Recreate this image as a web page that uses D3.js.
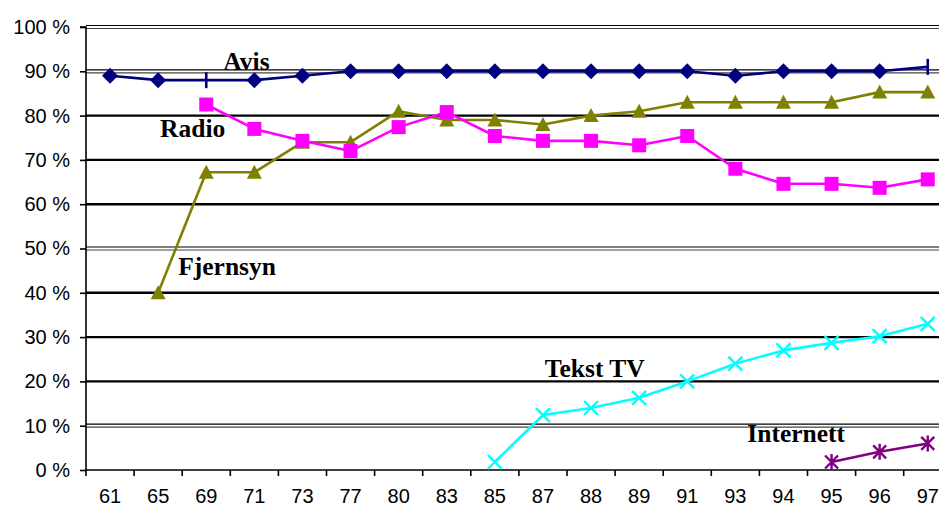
<!DOCTYPE html>
<html>
<head>
<meta charset="utf-8">
<script src="https://cdn.jsdelivr.net/npm/d3@7"></script>
<style>
  html, body { margin: 0; padding: 0; background: #fff; overflow: hidden; }
  svg { display: block; }
</style>
</head>
<body>
<svg id="chart" width="939" height="508"></svg>
<script>
const categories = ["61","65","69","71","73","77","80","83","85","87","88","89","91","93","94","95","96","97"];
const yTicks = [0,10,20,30,40,50,60,70,80,90,100];

const avis      = [89, 88, 88, 88, 89, 90, 90, 90, 90, 90, 90, 90, 90, 89, 90, 90, 90, 91];
const radio     = [null, null, 82.5, 77, 74.3, 72, 77.4, 80.8, 75.4, 74.3, 74.3, 73.3, 75.4, 68, 64.6, 64.6, 63.7, 65.6];
const fjernsyn  = [null, 40, 67.2, 67.2, 74, 74, 81, 79, 79, 78, 80, 81, 83, 83, 83, 83, 85.3, 85.3];
const tekstTV   = [null, null, null, null, null, null, null, null, 1.8, 12.4, 14, 16.3, 20, 24, 27, 28.7, 30.2, 33];
const internett = [null, null, null, null, null, null, null, null, null, null, null, null, null, null, null, 1.8, 4.1, 6];

const seriesNames = ["Avis", "Radio", "Fjernsyn", "Tekst TV", "Internett"];

(function () {
const svg = d3.select("#chart");
const mLeft = 86, mTop = 27, mBottom = 470, step = 48.1;
const x = d3.scaleBand().domain(categories).range([mLeft, mLeft + step * categories.length]).padding(0);
const y = d3.scaleLinear().domain([0, 100]).range([mBottom, mTop]);

// gridlines
const doubleLines = new Set([100, 90, 50, 10]);
const grid = svg.append("g");
yTicks.filter(v => v > 0).forEach(v => {
  const yy = y(v);
  if (doubleLines.has(v)) {
    grid.append("line").attr("x1", mLeft).attr("x2", 939).attr("y1", yy - 1.5).attr("y2", yy - 1.5)
      .attr("stroke", "#000").attr("stroke-width", 1.2);
    grid.append("line").attr("x1", mLeft).attr("x2", 939).attr("y1", yy + 1.5).attr("y2", yy + 1.5)
      .attr("stroke", "#444").attr("stroke-width", 1.2);
  } else {
    grid.append("line").attr("x1", mLeft).attr("x2", 939).attr("y1", yy).attr("y2", yy)
      .attr("stroke", "#000").attr("stroke-width", 2.4);
  }
});

// Y axis
const yAxis = svg.append("g").attr("transform", `translate(${mLeft},0)`)
  .call(d3.axisLeft(y).tickValues(yTicks).tickSize(6).tickPadding(10).tickFormat(d => d + " %"));
yAxis.select(".domain").attr("stroke", "#000").attr("stroke-width", 1.6).attr("d", `M-6,${mTop}H0V${mBottom}`);
yAxis.selectAll(".tick line").attr("stroke", "#000").attr("stroke-width", 1.6);
yAxis.selectAll(".tick text").attr("font-family", "Liberation Sans, Arial, sans-serif")
  .attr("font-size", 20).attr("fill", "#000");

// X axis
const xAxis = svg.append("g").attr("transform", `translate(0,${mBottom})`)
  .call(d3.axisBottom(x).tickSize(0).tickPadding(19));
xAxis.select(".domain").remove();
xAxis.append("line").attr("x1", mLeft).attr("x2", 939).attr("y1", 0).attr("y2", 0)
  .attr("stroke", "#000").attr("stroke-width", 1.6);
categories.forEach(c => {
  xAxis.append("line").attr("x1", x(c)).attr("x2", x(c)).attr("y1", 0).attr("y2", 6)
    .attr("stroke", "#000").attr("stroke-width", 1.6);
});
xAxis.selectAll(".tick text").attr("font-family", "Liberation Sans, Arial, sans-serif")
  .attr("font-size", 20).attr("fill", "#000");

const cx = c => x(c) + x.bandwidth() / 2;

function drawSeries(values, color, markerFn) {
  const pts = categories.map((c, i) => ({ c, v: values[i], i })).filter(d => d.v !== null);
  const line = d3.line().x(d => cx(d.c)).y(d => y(d.v));
  svg.append("path").datum(pts).attr("d", line).attr("fill", "none")
    .attr("stroke", color).attr("stroke-width", 2.6).attr("stroke-linejoin", "round");
  const g = svg.append("g");
  pts.forEach(d => markerFn(g.append("g").attr("transform", `translate(${cx(d.c)},${y(d.v)})`), color, d));
}

const diamond = (g, color, d) => {
  if (d.c === "69" || d.c === "97") {
    g.append("line").attr("x1", 0).attr("x2", 0).attr("y1", -8).attr("y2", 8)
      .attr("stroke", color).attr("stroke-width", 2.6);
  } else {
    g.append("path").attr("d", "M0,-8L8,0L0,8L-8,0Z").attr("fill", color);
  }
};
const square = (g, color) => g.append("rect").attr("x", -7).attr("y", -7).attr("width", 14).attr("height", 14).attr("fill", color);
const triangle = (g, color) => g.append("path").attr("d", "M0,-7.5L7.5,6.5L-7.5,6.5Z").attr("fill", color);
const cross = (g, color) => g.append("path").attr("d", "M-7,-7L7,7M-7,7L7,-7").attr("stroke", color).attr("stroke-width", 2.4);
const star = (g, color) => g.append("path").attr("d", "M-6.5,-6.5L6.5,6.5M-6.5,6.5L6.5,-6.5M0,-8V8").attr("stroke", color).attr("stroke-width", 2.4);

drawSeries(fjernsyn, "#808000", triangle);
drawSeries(radio, "#FF00FF", square);
drawSeries(avis, "#000080", diamond);
drawSeries(tekstTV, "#00FFFF", cross);
drawSeries(internett, "#800080", star);

// series labels
const labelPos = [
  { name: seriesNames[0], at: "71", dx: -7, v: 90.3 },
  { name: seriesNames[1], at: "65", dx: 26, v: 75.2 },
  { name: seriesNames[2], at: "69", dx: -4, v: 44 },
  { name: seriesNames[3], at: "85", dx: 74, v: 21 },
  { name: seriesNames[4], at: "93", dx: 36, v: 6.3 }
];
labelPos.forEach(l => {
  svg.append("text").attr("x", x(l.at) + l.dx).attr("y", y(l.v))
    .attr("font-family", "Liberation Serif, Times New Roman, serif").attr("font-weight", "bold")
    .attr("font-size", 25.5).attr("fill", "#000").text(l.name);
});
})();
</script>
</body>
</html>
